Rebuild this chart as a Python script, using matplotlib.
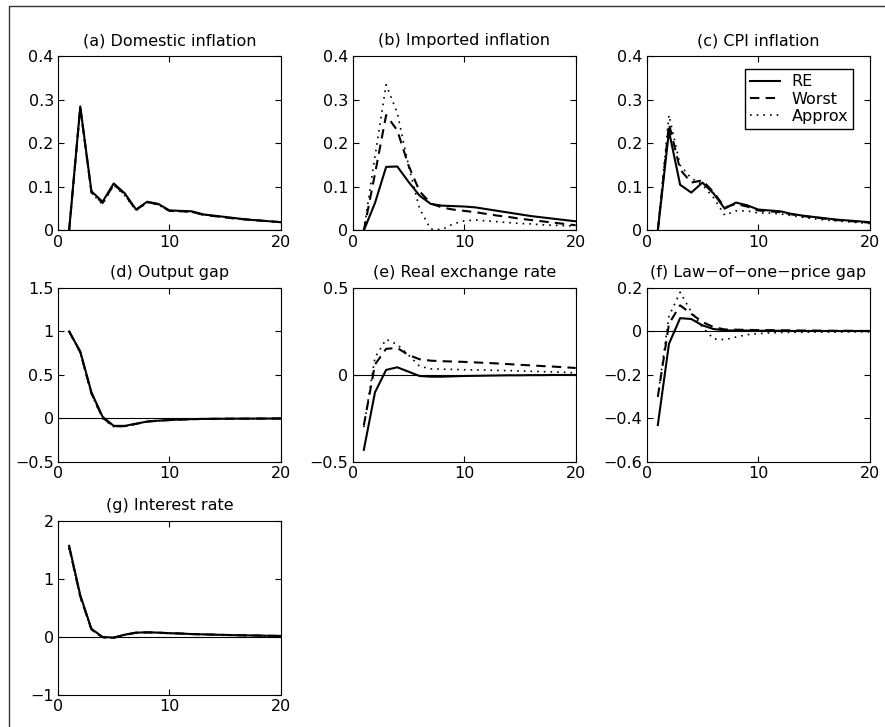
import numpy as np
import matplotlib
matplotlib.use('Agg')
import matplotlib.pyplot as plt
from matplotlib.patches import Rectangle

plt.rcParams['font.family'] = 'DejaVu Sans'
plt.rcParams['font.size'] = 11.5

# horizon
t = np.arange(1, 21)

# (a) Domestic inflation
dom_re = [0.0, 0.285, 0.09, 0.066, 0.108, 0.085, 0.048, 0.066, 0.061, 0.046,
          0.045, 0.044, 0.037, 0.034, 0.031, 0.028, 0.025, 0.023, 0.021, 0.019]
dom_worst = [0.0, 0.283, 0.088, 0.063, 0.106, 0.083, 0.047, 0.065, 0.06, 0.045,
             0.044, 0.043, 0.036, 0.033, 0.03, 0.027, 0.025, 0.023, 0.021, 0.019]
dom_approx = [0.0, 0.28, 0.086, 0.06, 0.104, 0.08, 0.046, 0.064, 0.059, 0.044,
              0.044, 0.042, 0.036, 0.033, 0.03, 0.027, 0.025, 0.023, 0.021, 0.019]

# (b) Imported inflation
imp_re = [0.0, 0.063, 0.146, 0.147, 0.112, 0.08, 0.061, 0.057, 0.056, 0.055,
          0.053, 0.049, 0.045, 0.041, 0.037, 0.033, 0.03, 0.027, 0.024, 0.021]
imp_worst = [0.0, 0.13, 0.265, 0.23, 0.15, 0.09, 0.062, 0.053, 0.048, 0.045,
             0.042, 0.038, 0.034, 0.031, 0.027, 0.024, 0.021, 0.018, 0.015, 0.012]
imp_approx = [0.0, 0.17, 0.335, 0.27, 0.15, 0.05, 0.003, 0.002, 0.015, 0.022,
              0.024, 0.022, 0.02, 0.018, 0.016, 0.015, 0.013, 0.012, 0.011, 0.01]

# (c) CPI inflation
cpi_re = [0.0, 0.228, 0.105, 0.087, 0.11, 0.085, 0.05, 0.064, 0.058, 0.048,
          0.046, 0.044, 0.038, 0.034, 0.031, 0.028, 0.025, 0.023, 0.021, 0.019]
cpi_worst = [0.0, 0.245, 0.14, 0.11, 0.115, 0.088, 0.053, 0.061, 0.055, 0.046,
             0.044, 0.042, 0.037, 0.033, 0.03, 0.027, 0.024, 0.022, 0.02, 0.018]
cpi_approx = [0.0, 0.265, 0.15, 0.12, 0.105, 0.075, 0.035, 0.045, 0.045, 0.04,
              0.04, 0.038, 0.034, 0.03, 0.027, 0.024, 0.022, 0.02, 0.018, 0.016]

# (d) Output gap
gap_re = [1.0, 0.77, 0.3, 0.02, -0.085, -0.085, -0.06, -0.035, -0.025, -0.018,
          -0.012, -0.008, -0.005, -0.004, -0.003, -0.002, -0.002, -0.001, -0.001, 0.0]
gap_worst = [1.0, 0.76, 0.29, 0.01, -0.09, -0.088, -0.062, -0.036, -0.025, -0.018,
             -0.012, -0.008, -0.005, -0.004, -0.003, -0.002, -0.002, -0.001, -0.001, 0.0]
gap_approx = [1.0, 0.75, 0.28, 0.0, -0.095, -0.09, -0.063, -0.037, -0.026, -0.018,
              -0.012, -0.008, -0.005, -0.004, -0.003, -0.002, -0.002, -0.001, -0.001, 0.0]

# (e) Real exchange rate
rer_re = [-0.43, -0.1, 0.029, 0.044, 0.019, -0.006, -0.01, -0.01, -0.008, -0.006,
          -0.005, -0.004, -0.003, -0.002, -0.002, -0.001, -0.001, 0.0, 0.0, 0.0]
rer_worst = [-0.29, 0.06, 0.15, 0.155, 0.115, 0.09, 0.082, 0.079, 0.077, 0.075,
             0.072, 0.069, 0.066, 0.062, 0.058, 0.055, 0.051, 0.048, 0.044, 0.04]
rer_approx = [-0.3, 0.1, 0.205, 0.175, 0.115, 0.05, 0.035, 0.033, 0.032, 0.03,
              0.029, 0.028, 0.026, 0.025, 0.023, 0.021, 0.019, 0.017, 0.015, 0.013]

# (f) Law-of-one-price gap
lop_re = [-0.43, -0.057, 0.061, 0.057, 0.028, 0.011, 0.005, 0.004, 0.004, 0.003,
          0.003, 0.003, 0.002, 0.002, 0.002, 0.002, 0.002, 0.002, 0.002, 0.002]
lop_worst = [-0.3, 0.035, 0.12, 0.081, 0.043, 0.02, 0.009, 0.008, 0.007, 0.006,
             0.006, 0.005, 0.005, 0.004, 0.004, 0.003, 0.003, 0.003, 0.002, 0.002]
lop_approx = [-0.3, 0.07, 0.18, 0.09, 0.02, -0.034, -0.038, -0.026, -0.015, -0.01,
              -0.007, -0.005, -0.004, -0.004, -0.003, -0.003, -0.003, -0.002, -0.002, -0.002]

# (g) Interest rate
int_re = [1.57, 0.72, 0.14, 0.0, -0.01, 0.04, 0.075, 0.08, 0.075, 0.065,
          0.06, 0.05, 0.045, 0.04, 0.035, 0.03, 0.027, 0.024, 0.02, 0.018]
int_worst = [1.55, 0.7, 0.13, -0.005, -0.015, 0.037, 0.073, 0.079, 0.074, 0.064,
             0.059, 0.05, 0.045, 0.04, 0.035, 0.03, 0.027, 0.024, 0.02, 0.018]
int_approx = [1.53, 0.68, 0.12, -0.01, -0.02, 0.035, 0.07, 0.078, 0.073, 0.063,
              0.058, 0.049, 0.044, 0.039, 0.034, 0.03, 0.027, 0.024, 0.02, 0.018]

panels = [
    ('(a) Domestic inflation', dom_re, dom_worst, dom_approx, (0, 0.4), [0, 0.1, 0.2, 0.3, 0.4]),
    ('(b) Imported inflation', imp_re, imp_worst, imp_approx, (0, 0.4), [0, 0.1, 0.2, 0.3, 0.4]),
    ('(c) CPI inflation', cpi_re, cpi_worst, cpi_approx, (0, 0.4), [0, 0.1, 0.2, 0.3, 0.4]),
    ('(d) Output gap', gap_re, gap_worst, gap_approx, (-0.5, 1.5), [-0.5, 0, 0.5, 1, 1.5]),
    ('(e) Real exchange rate', rer_re, rer_worst, rer_approx, (-0.5, 0.5), [-0.5, 0, 0.5]),
    ('(f) Law\u2212of\u2212one\u2212price gap', lop_re, lop_worst, lop_approx, (-0.6, 0.2), [-0.6, -0.4, -0.2, 0, 0.2]),
    ('(g) Interest rate', int_re, int_worst, int_approx, (-1, 2), [-1, 0, 1, 2]),
]

fig = plt.figure(figsize=(8.85, 7.27), dpi=100)

lefts = [0.0655, 0.3985, 0.7307]
bottoms = [0.683, 0.3645, 0.044]
w, h = 0.252, 0.2395

for k, (title, re, worst, approx, ylim, yticks) in enumerate(panels):
    row, col = divmod(k, 3)
    ax = fig.add_axes([lefts[col], bottoms[row], w, h])
    ax.axhline(0, color='k', lw=0.8)
    ax.plot(t, re, color='k', lw=1.5, ls='-', label='RE')
    ax.plot(t, worst, color='k', lw=1.5, ls=(0, (4.5, 3)), label='Worst')
    ax.plot(t, approx, color='k', lw=1.2, ls=(0, (1, 3)), label='Approx')
    ax.set_xlim(0, 20)
    ax.set_ylim(*ylim)
    ax.set_xticks([0, 10, 20])
    ax.set_yticks(yticks)
    ax.set_yticklabels([('%g' % v).replace('-', '\u2212') for v in yticks])
    ax.tick_params(direction='in', top=True, right=True, length=4, width=0.8, pad=3)
    for s in ax.spines.values():
        s.set_linewidth(0.8)
    ax.set_title(title, pad=8, fontsize=11.5)
    if k == 2:
        ax.legend(loc='upper right', bbox_to_anchor=(0.925, 0.925), borderaxespad=0,
                  fancybox=False, edgecolor='k', framealpha=1, handlelength=1.9,
                  handletextpad=0.7, labelspacing=0.15, borderpad=0.3)

# outer frame of the original figure
fig.add_artist(Rectangle((9 / 885, -0.1), 1.2, 1.1 - 6 / 727, transform=fig.transFigure,
                         fill=False, lw=1.0, ec='0.2'))

fig.savefig('out.png', dpi=100)
